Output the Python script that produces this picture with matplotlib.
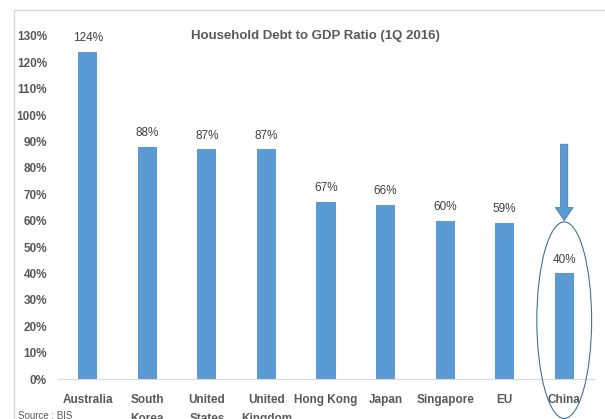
import matplotlib.pyplot as plt
from matplotlib.patches import Ellipse, FancyArrow
from matplotlib.lines import Line2D
import numpy as np

plt.rcParams['font.family'] = ['Liberation Sans', 'DejaVu Sans']

countries = ["Australia", "South\nKorea", "United\nStates", "United\nKingdom", "Hong Kong",
             "Japan", "Singapore", "EU", "China"]
ratios = [124, 88, 87, 87, 67, 66, 60, 59, 40]
yticks = list(range(0, 131, 10))

bar_color = '#5B9BD5'
text_gray = '#595959'

fig = plt.figure(figsize=(6.05, 4.19), dpi=100)
ax = fig.add_axes([58/605, 1 - 379/419, (594 - 58)/605, (379 - 36)/419])

x = np.arange(len(countries))
ax.bar(x, ratios, width=0.32, color=bar_color, zorder=2)

for xi, v in zip(x, ratios):
    ax.text(xi, v + 3, f"{v}%", ha='center', va='bottom', fontsize=8.5, color='#404040')

ax.set_xlim(-0.5, len(countries) - 0.5)
ax.set_ylim(0, 130)
ax.set_yticks(yticks)
ax.set_yticklabels([f"{t}%" for t in yticks], fontsize=8.5, fontweight='bold', color=text_gray)
ax.set_xticks(x)
ax.set_xticklabels(countries, fontsize=8.5, fontweight='bold', color=text_gray, linespacing=1.75, va='top')
ax.tick_params(axis='y', length=0, pad=8)
ax.tick_params(axis='x', length=0, pad=11)

for s in ['top', 'right', 'left']:
    ax.spines[s].set_visible(False)
ax.spines['bottom'].set_color('#D9D9D9')

fig.text(315/605, 1 - 36/419, "Household Debt to GDP Ratio (1Q 2016)", ha='center', va='center',
         fontsize=9.5, fontweight='bold', color=text_gray)

# arrow and ellipse highlighting China
ax.add_patch(FancyArrow(8, 89, 0, -29, width=0.12, head_width=0.3, head_length=5,
                        length_includes_head=True, color=bar_color, ec='#41719C', lw=0.5,
                        clip_on=False, zorder=3))
ax.add_patch(Ellipse((8, 22.3), 0.92, 74.5, fill=False, ec='#41719C', lw=0.8, clip_on=False, zorder=3))

fig.text(18/605, 1 - 416/419, "Source : BIS", fontsize=7, color=text_gray, va='center')

# chart-area border
fig.add_artist(Line2D([14/605, 1], [1 - 10/419, 1 - 10/419], color='#D9D9D9', lw=1))
fig.add_artist(Line2D([14/605, 14/605], [0, 1 - 10/419], color='#D9D9D9', lw=1))

fig.savefig('out.png', dpi=100)
